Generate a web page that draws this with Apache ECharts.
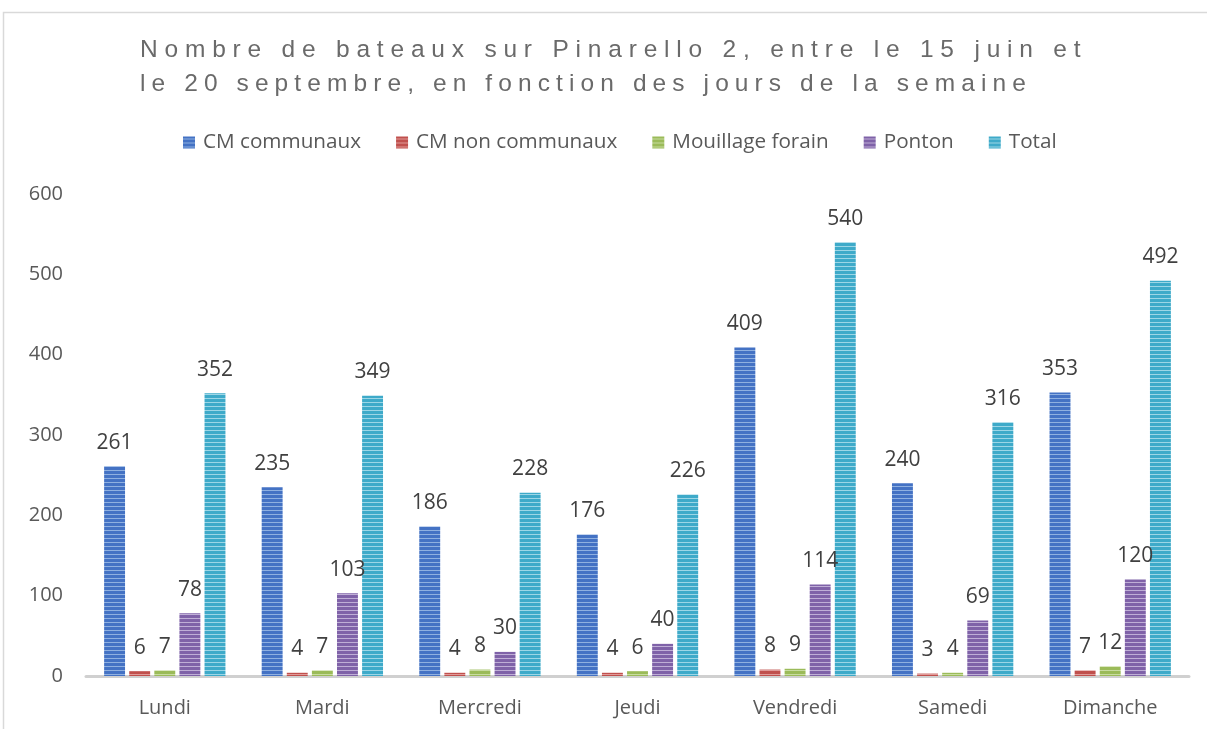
<!DOCTYPE html>
<html><head><meta charset="utf-8">
<script src="https://cdn.jsdelivr.net/npm/echarts@6/dist/echarts.min.js"></script>
<style>
html,body{margin:0;padding:0;background:#fff;}
#c{width:1207px;height:729px;position:relative;}
#t{position:absolute;left:140px;top:32px;font-family:"Liberation Sans",Arial,sans-serif;font-size:24.5px;line-height:34px;color:#6a6a6a;white-space:nowrap;pointer-events:none;}
#t1{letter-spacing:6.8px;}
#t2{letter-spacing:6.1px;}
</style></head>
<body>
<div id="c"></div>
<div id="t"><span id="t1">Nombre de bateaux sur Pinarello 2, entre le 15 juin et</span><br><span id="t2">le 20 septembre, en fonction des jours de la semaine</span></div>
<script>
const categories = ['Lundi','Mardi','Mercredi','Jeudi','Vendredi','Samedi','Dimanche'];
const seriesNames = ['CM communaux','CM non communaux','Mouillage forain','Ponton','Total'];
const cmCommunaux = [261,235,186,176,409,240,353];
const cmNonCommunaux = [6,4,4,4,8,3,7];
const mouillageForain = [7,7,8,6,9,4,12];
const ponton = [78,103,30,40,114,69,120];
const total = [352,349,228,226,540,316,492];
const yTicks = [0,100,200,300,400,500,600];

const palette = [['#4472c4','#8fb0e0'],['#c0504d','#e09a98'],['#9bbb59','#c8dca0'],['#7f62a8','#bfaed6'],['#3eaac9','#9cd6e6']];
function pattern(dark, light){
  const cv = document.createElement('canvas');
  cv.width = 4; cv.height = 4;
  const ctx = cv.getContext('2d');
  ctx.fillStyle = dark; ctx.fillRect(0,0,4,4);
  ctx.fillStyle = light; ctx.fillRect(0,2,4,1);
  return {image: cv, repeat: 'repeat'};
}
const allData = [cmCommunaux, cmNonCommunaux, mouillageForain, ponton, total];
const chart = echarts.init(document.getElementById('c'));
const font = '"Open Sans", sans-serif';
chart.setOption({
  animation:false,
  graphic:[{type:'rect',shape:{x:3.5,y:12.5,width:1300,height:900},style:{fill:'none',stroke:'#d9d9d9',lineWidth:1.5},silent:true}],
  legend:{top:127,left:178,itemWidth:12,itemHeight:12,itemGap:35,icon:'rect',
    textStyle:{fontFamily:font,fontSize:20.7,color:'#595959',padding:[0,0,0,3]},
    data:seriesNames},
  grid:{left:86,right:18,top:194,bottom:53},
  xAxis:{type:'category',data:categories,
    axisLine:{lineStyle:{color:'#d0d0d0',width:3}},axisTick:{show:false},
    axisLabel:{fontFamily:font,fontSize:20,color:'#595959',margin:22}},
  yAxis:{type:'value',min:yTicks[0],max:yTicks[yTicks.length-1],interval:100,
    splitLine:{show:false},axisLine:{show:false},axisTick:{show:false},
    axisLabel:{fontFamily:font,fontSize:20,color:'#595959',margin:23}},
  series: seriesNames.map((n,i)=>({
    name:n,type:'bar',data:allData[i],
    barGap:'20%',barCategoryGap:'23%',
    itemStyle:{color:pattern(palette[i][0],palette[i][1])},
    label:{show:true,position:'top',distance:13,fontFamily:font,fontSize:21,color:'#404040'}
  }))
});
</script>
</body></html>
